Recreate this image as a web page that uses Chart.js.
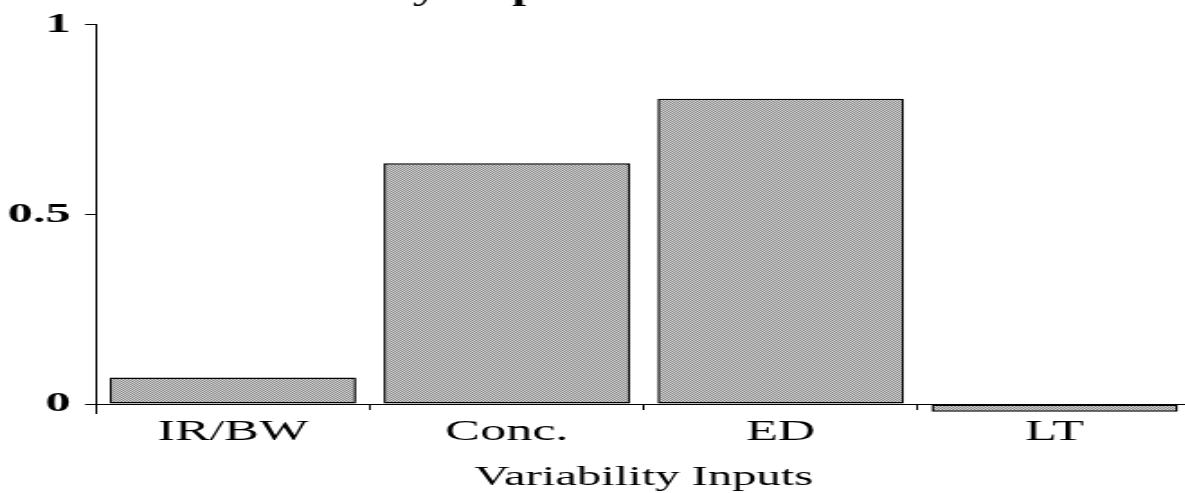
<!DOCTYPE html>
<html>
<head>
<meta charset="utf-8">
<script src="https://cdn.jsdelivr.net/npm/chart.js@4.4.1/dist/chart.umd.min.js"></script>
<style>
  html, body { margin: 0; padding: 0; background: #ffffff; }
  body { width: 1185px; height: 493px; overflow: hidden; position: relative; }
  #wrap { position: absolute; left: 0; top: 0; width: 662px; height: 493px; transform: scaleX(1.8); transform-origin: 0 0; }
  canvas { display: block; }
</style>
</head>
<body>
<div id="wrap"><canvas id="c" width="662" height="493"></canvas></div>
<script>
const categories = ['IR/BW', 'Conc.', 'ED', 'LT'];
const importance = [0.07, 0.635, 0.805, -0.02];
const yTickValues = [0, 0.5, 1];
const yTickLabels = ['0', '0.5', '1'];
const chartTitle = 'Variability Importance';
const xAxisTitle = 'Variability Inputs';

const serif = '"Liberation Serif", "Times New Roman", serif';

function halftone(ctx) {
  const p = document.createElement('canvas');
  p.width = 2; p.height = 2;
  const g = p.getContext('2d');
  g.fillStyle = '#d2d2d2'; g.fillRect(0, 0, 2, 2);
  g.fillStyle = '#8a8a8a'; g.fillRect(0, 0, 1, 1); g.fillRect(1, 1, 1, 1);
  return ctx.createPattern(p, 'repeat');
}

const titlePlugin = {
  id: 'cutTitle',
  afterDraw(chart) {
    const ctx = chart.ctx;
    ctx.save();
    ctx.font = 'bold 28px ' + serif;
    ctx.fillStyle = '#000';
    ctx.textAlign = 'right';
    ctx.textBaseline = 'alphabetic';
    ctx.fillText(chartTitle, chart.chartArea.left + 337, -0.5);
    ctx.restore();
  }
};

const canvas = document.getElementById('c');
const fill = halftone(canvas.getContext('2d'));

new Chart(canvas, {
  type: 'bar',
  data: {
    labels: categories,
    datasets: [{
      data: importance,
      backgroundColor: fill,
      borderColor: '#000000',
      borderWidth: 1.5,
      borderSkipped: false,
      barPercentage: 0.9,
      categoryPercentage: 1.0
    }]
  },
  plugins: [titlePlugin],
  options: {
    responsive: false,
    animation: false,
    devicePixelRatio: 1,
    layout: { padding: { top: 18, bottom: 79.4, left: 0, right: 0 } },
    plugins: { legend: { display: false }, tooltip: { enabled: false }, title: { display: false } },
    scales: {
      x: {
        position: { y: 0 },
        grid: { display: true, drawOnChartArea: false, drawTicks: true, tickLength: 5, color: '#000', offset: true },
        border: { display: true, color: '#000', width: 1 },
        ticks: { color: '#000', font: { family: serif, size: 29 }, padding: 6 },
        title: { display: true, text: xAxisTitle, color: '#000', font: { family: serif, size: 27 }, padding: { top: 6, bottom: 0 } }
      },
      y: {
        min: -0.025,
        max: 1,
        afterFit(scale) { scale.width = 53.3; },
        afterBuildTicks(scale) { scale.ticks = yTickValues.map(v => ({ value: v })); },
        grid: { display: true, drawOnChartArea: false, drawTicks: true, tickLength: 6, color: '#000' },
        border: { display: true, color: '#000', width: 1 },
        ticks: {
          color: '#000', font: { family: serif, size: 28, weight: 'bold' }, padding: 8, includeBounds: false,
          callback: (v) => yTickLabels[yTickValues.indexOf(v)]
        }
      }
    }
  }
});
</script>
</body>
</html>
